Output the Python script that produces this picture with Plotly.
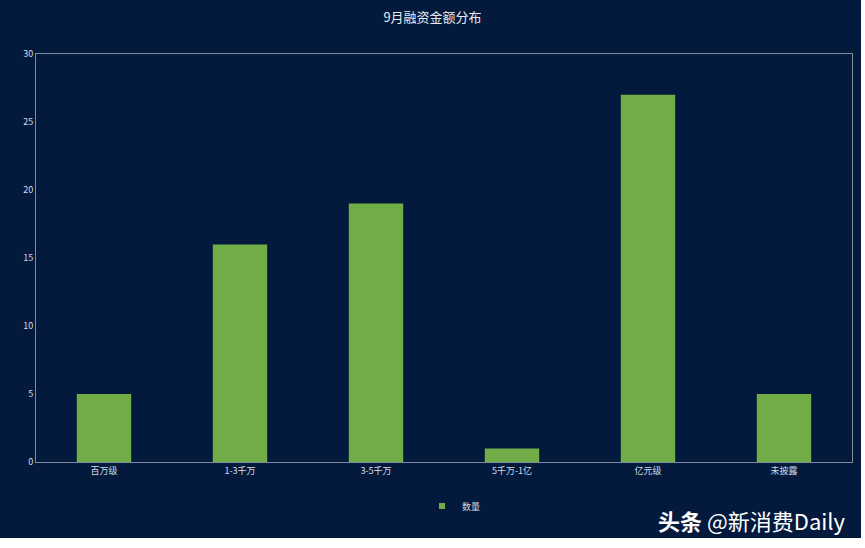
import plotly.graph_objects as go

categories = ["百万级", "1-3千万", "3-5千万", "5千万-1亿", "亿元级", "未披露"]
counts = [5, 16, 19, 1, 27, 5]
series_name = "数量"
title_text = "9月融资金额分布"
y_ticks = [0, 5, 10, 15, 20, 25, 30]

W, H = 865, 548
L, R, T, B = 36, 13, 54, 86
pw, ph = W - L - R, H - T - B

def px_x(x):
    return (x - L) / pw

def px_y(y):
    return (H - B - y) / ph

bg = "#031a3d"
bar_color = "#70ad47"
font_fam = "PingFang SC, Noto Sans CJK SC, sans-serif"

fig = go.Figure()
fig.add_trace(go.Bar(x=categories, y=counts, name=series_name, showlegend=False,
                     marker=dict(color=bar_color, line=dict(width=0))))
# legend entry with a small square marker, like the reference
fig.add_trace(go.Scatter(x=[None], y=[None], mode="markers", name=series_name,
                         marker=dict(symbol="square", size=6, color=bar_color)))

fig.update_layout(
    width=W, height=H,
    margin=dict(l=L, r=R, t=T, b=B),
    paper_bgcolor="white",
    plot_bgcolor=bg,
    bargap=0.6,
    title=dict(text=title_text, x=0.5, xanchor="center", y=1 - 17 / H, yanchor="middle",
               font=dict(family=font_fam, size=13, color="#e8ecf2")),
    font=dict(family=font_fam, color="#d0d6e0", size=9),
    showlegend=True,
    legend=dict(orientation="h", x=px_x(422), xanchor="left", y=px_y(506), yanchor="middle",
                font=dict(size=9, color="#d0d6e0"), bgcolor="rgba(0,0,0,0)",
                itemwidth=30),
    xaxis=dict(showgrid=False, showline=True, linecolor="#7d8ba3", linewidth=1, mirror=True,
               ticks="", tickfont=dict(size=9, color="#d8dde6"), zeroline=False),
    yaxis=dict(range=[0, 30], tickvals=y_ticks, showgrid=False, showline=True,
               linecolor="#7d8ba3", linewidth=1, mirror=True, ticks="",
               tickfont=dict(size=9, color="#d8dde6"), zeroline=False),
    shapes=[dict(type="rect", xref="paper", yref="paper", layer="below",
                 x0=px_x(0), x1=px_x(861), y0=px_y(538), y1=px_y(0),
                 fillcolor=bg, line=dict(width=0))],
    annotations=[dict(text="<b>头条</b> @新消费Daily", xref="paper", yref="paper",
                      x=px_x(848), y=px_y(520), xanchor="right", yanchor="middle",
                      showarrow=False,
                      font=dict(family=font_fam, size=22, color="white"))],
)

fig.write_html("out.html", config={"displayModeBar": False},
               post_script="document.body.style.margin='0';")
